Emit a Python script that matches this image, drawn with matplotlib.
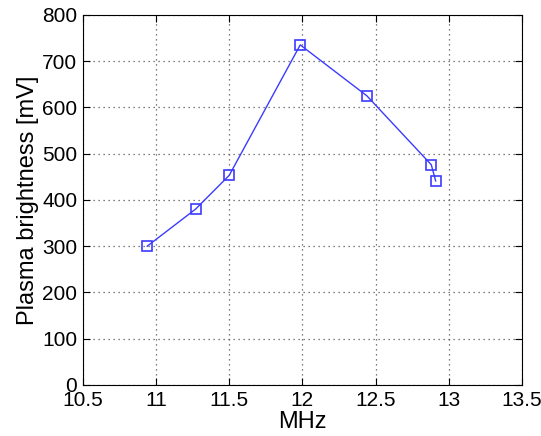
import matplotlib
matplotlib.use("Agg")
import matplotlib.pyplot as plt

# Data
freq_mhz = [10.94, 11.27, 11.50, 11.985, 12.44, 12.88, 12.91]
brightness_mv = [300, 380, 453, 735, 625, 476, 441]

x_ticks = [10.5, 11, 11.5, 12, 12.5, 13, 13.5]
x_tick_labels = ["10.5", "11", "11.5", "12", "12.5", "13", "13.5"]
y_ticks = [0, 100, 200, 300, 400, 500, 600, 700, 800]

plt.rcParams["font.family"] = ["Liberation Sans", "DejaVu Sans"]

fig = plt.figure(figsize=(5.41, 4.36), dpi=100)
ax = fig.add_axes([0.153, 0.117, 0.812, 0.849])

ax.plot(
    freq_mhz, brightness_mv,
    color="#3b3bff", linewidth=1.0,
    marker="s", markersize=7.5, markerfacecolor="none",
    markeredgecolor="#3b3bff", markeredgewidth=1.2
)

ax.set_xlim(10.5, 13.5)
ax.set_ylim(0, 800)
ax.set_xticks(x_ticks)
ax.set_xticklabels(x_tick_labels)
ax.set_yticks(y_ticks)

ax.grid(True, linestyle=(0, (1, 3)), color="#555555", linewidth=0.9)
ax.tick_params(direction="in", top=True, right=True, labelsize=15, length=5, pad=4)
for spine in ax.spines.values():
    spine.set_linewidth(0.8)

ax.set_xlabel("MHz", fontsize=17, labelpad=1)
ax.set_ylabel("Plasma brightness [mV]", fontsize=17, labelpad=2)

fig.savefig("out.png", dpi=100)
